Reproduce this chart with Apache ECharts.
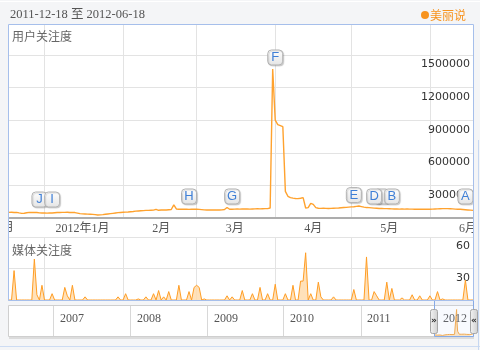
<!DOCTYPE html>
<html><head><meta charset="utf-8">
<script src="https://cdn.jsdelivr.net/npm/echarts@6/dist/echarts.min.js"></script>
<style>html,body{margin:0;padding:0;background:#f4f5f7;}#c{width:480px;height:350px;}</style>
</head><body><div id="c"></div><script>
// ---- data ----
const startDate = [2011, 12, 18];
const userIndex = [
  52000, 53000, 51000, 52000, 47000, 43000, 44000, 48000, 52000, 51000,
  52000, 50000, 47000, 46000, 46000, 45000, 47000, 46000, 48000, 50000,
  51000, 52000, 52000, 53000, 51000, 52000, 50000, 45000, 40000, 38000,
  37000, 36000, 35000, 33000, 31000, 28000, 29000, 31000, 34000, 37000,
  40000, 43000, 46000, 49000, 51000, 53000, 54000, 55000, 58000, 60000,
  63000, 65000, 67000, 68000, 70000, 70000, 71000, 72000, 80000, 71000,
  73000, 75000, 74000, 76000, 78000, 120000, 83000, 81000, 80000, 81000,
  80000, 79000, 80000, 81000, 80000, 79000, 77000, 75000, 74000, 73000,
  74000, 75000, 74000, 73000, 75000, 78000, 97000, 80000, 81000, 82000,
  83000, 82000, 83000, 84000, 83000, 82000, 83000, 84000, 85000, 84000,
  85000, 86000, 86000, 92000, 1370000, 900000, 860000, 850000, 840000, 245000,
  200000, 188000, 183000, 180000, 178000, 182000, 188000, 92000, 96000, 135000,
  125000, 96000, 90000, 89000, 90000, 89000, 88000, 89000, 90000, 91000,
  92000, 94000, 96000, 98000, 100000, 102000, 104000, 107000, 110000, 105000,
  100000, 96000, 95000, 93000, 91000, 90000, 88000, 87000, 86000, 86000,
  85000, 84000, 83000, 83000, 82000, 83000, 82000, 83000, 82000, 82000,
  81000, 82000, 81000, 80000, 81000, 80000, 81000, 82000, 83000, 84000,
  85000, 86000, 86000, 86000, 85000, 84000, 82000, 81000, 80000, 78000,
  76000, 74000, 72000, 70000
];
const mediaIndex = [
  0, 0, 28, 0, 0, 0, 0, 0, 0, 0,
  39, 5, 0, 14, 0, 0, 0, 6, 0, 0,
  0, 0, 12, 4, 0, 14, 0, 0, 0, 0,
  3, 0, 0, 0, 0, 0, 0, 0, 0, 0,
  0, 0, 0, 3, 0, 0, 6, 0, 0, 0,
  0, 1, 0, 0, 3, 0, 0, 6, 0, 9,
  0, 3, 0, 8, 0, 0, 0, 14, 0, 0,
  0, 8, 0, 12, 14, 12, 0, 1, 0, 0,
  0, 0, 0, 0, 0, 0, 4, 0, 3, 0,
  0, 0, 9, 0, 0, 0, 6, 0, 0, 12,
  0, 0, 6, 0, 0, 15, 0, 0, 0, 6,
  0, 0, 14, 0, 0, 18, 18, 45, 0, 6,
  0, 0, 17, 3, 0, 0, 0, 0, 3, 0,
  0, 0, 0, 0, 0, 0, 10, 0, 0, 0,
  0, 41, 0, 0, 8, 4, 0, 0, 0, 17,
  0, 11, 0, 0, 0, 2, 0, 0, 0, 5,
  0, 0, 4, 0, 0, 0, 4, 0, 0, 8,
  0, 1, 0, 0, 0, 0, 0, 0, 0, 0,
  19, 0, 0, 0
];
const markerLetters = ['J', 'I', 'H', 'G', 'F', 'E', 'C', 'D', 'B', 'A'];
const markerDays    = [12, 17, 71, 88, 105, 136, 147, 144, 151, 180];
const markerValues  = [170000, 170000, 198000, 198000, 1477000, 211000, 198000, 198000, 198000, 198000];
const hiddenMarkerLabels = ['C'];
const userAxisMax = 1785000, userAxisStep = 300000;
const mediaAxisMax = 60, mediaAxisStep = 30;
const yearLabels = ['2007', '2008', '2009', '2010', '2011', '2012'];
const titleText = '2011-12-18 至 2012-06-18';
const brandText = '美丽说';
const userTitle = '用户关注度';
const mediaTitle = '媒体关注度';

// ---- build ----
const dates = [];
for (let i = 0; i < userIndex.length; i++) {
  const d = new Date(Date.UTC(startDate[0], startDate[1] - 1, startDate[2] + i));
  dates.push(d.toISOString().slice(0, 10));
}
const dayOf = s => +s.slice(8, 10);
const monthOf = s => +s.slice(5, 7);
const serif = "'Liberation Serif','Noto Sans CJK SC',serif";
const sans = "'DejaVu Sans',sans-serif";
const cjk = "'Noto Sans CJK SC',sans-serif";
const gridColor = '#e3e3e3';
const bg = '#f4f5f7';
const monthStart = (i, v) => dayOf(v) === 1;

const markers = markerLetters.map((l, i) => ({
  name: l, coord: [markerDays[i], markerValues[i]],
  label: { show: hiddenMarkerLabels.indexOf(l) < 0 }
}));

const chart = echarts.init(document.getElementById('c'), null, { renderer: 'canvas' });
const g = [];
g.push({ type: 'rect', z: -10, shape: { x: 8, y: 24, width: 466, height: 277 }, style: { fill: '#fff' } });
g.push({ type: 'line', z: -10, shape: { x1: 0, y1: 1.5, x2: 480, y2: 1.5 }, style: { stroke: '#ffffff', lineWidth: 1 } });
g.push({ type: 'text', x: 10, y: 15, style: { text: titleText, font: '12.5px ' + serif, fill: '#555', verticalAlign: 'middle' } });
g.push({ type: 'circle', shape: { cx: 425, cy: 15, r: 4 }, style: { fill: '#f7931e' } });
g.push({ type: 'text', x: 430, y: 15, style: { text: brandText, font: '12px ' + cjk, fill: '#f7931e', verticalAlign: 'middle' } });
g.push({ type: 'text', x: 12, y: 36, z: 20, style: { text: userTitle, font: '12px ' + cjk, fill: '#666', verticalAlign: 'middle' } });
g.push({ type: 'text', x: 12, y: 250, z: 20, style: { text: mediaTitle, font: '12px ' + cjk, fill: '#666', verticalAlign: 'middle' } });
g.push({ type: 'text', x: 14, y: 228, z: 20, style: { text: '12月', font: '12px ' + serif, fill: '#555', align: 'right', verticalAlign: 'middle' } });
g.push({ type: 'rect', z: 40, shape: { x: 0, y: 218, width: 8, height: 20 }, style: { fill: bg } });
g.push({ type: 'rect', z: 40, shape: { x: 474, y: 24, width: 6, height: 280 }, style: { fill: bg } });
g.push({ type: 'line', z: 41, shape: { x1: 478.5, y1: 140, x2: 478.5, y2: 350 }, style: { stroke: '#c6d7f1', lineWidth: 1 } });
g.push({ type: 'rect', z: 60, shape: { x: 8.5, y: 24.5, width: 465, height: 276 }, style: { fill: null, stroke: '#a6bfeb', lineWidth: 1 } });
g.push({ type: 'rect', z: -10, shape: { x: 8.5, y: 305.5, width: 465, height: 31 }, style: { fill: '#fff', stroke: '#cfcfcf', lineWidth: 1 } });
g.push({ type: 'line', z: -10, shape: { x1: 9, y1: 338, x2: 474, y2: 338 }, style: { stroke: '#dcdcdc', lineWidth: 2 } });
g.push({ type: 'line', z: -10, shape: { x1: 0, y1: 346.5, x2: 480, y2: 346.5 }, style: { stroke: '#cddcf3', lineWidth: 1 } });
[53, 130, 207, 283, 361].forEach(x => g.push({ type: 'line', z: -9, shape: { x1: x + 0.5, y1: 306, x2: x + 0.5, y2: 336 }, style: { stroke: '#d8d8d8', lineWidth: 1 } }));
yearLabels.forEach((t, i) => g.push({ type: 'text', z: 10, x: [60, 137, 214, 290, 367, 443][i], y: 319, style: { text: t, font: '12px ' + serif, fill: '#555', verticalAlign: 'middle' } }));
g.push({ type: 'rect', z: 30, shape: { x: 434.5, y: 300.5, width: 39, height: 36 }, style: { fill: 'rgba(200,215,245,0.12)', stroke: '#86aae6', lineWidth: 1 } });
[[430, '»'], [470, '«']].forEach(([x, t]) => {
  g.push({ type: 'rect', z: 31, shape: { x: x + 0.5, y: 309.5, width: 7, height: 24, r: 2 },
    style: { fill: new echarts.graphic.LinearGradient(0, 0, 1, 0, [{ offset: 0, color: '#f4f4f4' }, { offset: 1, color: '#cfcfcf' }]), stroke: '#a5a5a5', lineWidth: 1 } });
  g.push({ type: 'text', z: 32, x: x + 4, y: 321, style: { text: t, font: 'bold 9px ' + sans, fill: '#333', align: 'center', verticalAlign: 'middle' } });
});

const yLabel = { inside: true, verticalAlign: 'top', padding: [4, 0, 0, 0], margin: 3, color: '#333', fontFamily: sans, fontSize: 11,
  formatter: v => String(v) };

const option = {
  animation: false,
  backgroundColor: bg,
  grid: [
    { left: 9, top: 24, width: 464, height: 194, outerBoundsMode: 'none' },
    { left: 9, top: 237, width: 464, height: 63, outerBoundsMode: 'none' },
    { left: 435, top: 307, width: 38, height: 29, outerBoundsMode: 'none' }
  ],
  xAxis: [
    { gridIndex: 0, type: 'category', data: dates, boundaryGap: false,
      axisLine: { show: true, lineStyle: { color: '#adadad', width: 2 } }, axisTick: { show: false },
      axisLabel: { interval: (i, v) => dayOf(v) === 16, hideOverlap: false,
        formatter: v => monthOf(v) === 1 ? v.slice(0, 4) + '年1月' : monthOf(v) + '月',
        fontFamily: serif, fontSize: 12, color: '#555', margin: 5 },
      splitLine: { show: true, interval: monthStart, lineStyle: { color: gridColor } } },
    { gridIndex: 1, type: 'category', data: dates, boundaryGap: false, position: 'top',
      axisLine: { show: true, lineStyle: { color: '#adadad', width: 1 } }, axisTick: { show: false }, axisLabel: { show: false },
      splitLine: { show: true, interval: monthStart, lineStyle: { color: gridColor } } },
    { gridIndex: 2, type: 'category', data: dates, boundaryGap: false, show: false }
  ],
  yAxis: [
    { gridIndex: 0, type: 'value', position: 'right', min: 0, max: userAxisMax, interval: userAxisStep,
      axisLine: { show: false }, axisTick: { show: false },
      axisLabel: Object.assign({}, yLabel, { showMinLabel: false, showMaxLabel: false }),
      splitLine: { show: true, lineStyle: { color: gridColor } } },
    { gridIndex: 1, type: 'value', position: 'right', min: 0, max: mediaAxisMax, interval: mediaAxisStep,
      axisLine: { show: false }, axisTick: { show: false },
      axisLabel: Object.assign({}, yLabel, { showMinLabel: false, showMaxLabel: true }),
      splitLine: { show: true, lineStyle: { color: gridColor } } },
    { gridIndex: 2, type: 'value', min: 0, show: false }
  ],
  series: [
    { type: 'line', xAxisIndex: 0, yAxisIndex: 0, data: userIndex, symbol: 'none', z: 3,
      lineStyle: { color: '#ffa22e', width: 1.4 },
      markPoint: {
        symbol: 'roundRect', symbolSize: [15, 15], data: markers, animation: false,
        itemStyle: { color: new echarts.graphic.LinearGradient(0, 0, 0, 1, [{ offset: 0, color: '#ffffff' }, { offset: 1, color: '#e4e4e4' }]),
          borderColor: '#b3b3b3', borderWidth: 1, shadowColor: 'rgba(0,0,0,0.15)', shadowBlur: 1, shadowOffsetX: 1, shadowOffsetY: 1 },
        label: { show: true, formatter: p => p.name, color: '#3f7fd6', fontSize: 13, fontFamily: "'Liberation Sans',Arial,sans-serif" }
      } },
    { type: 'line', xAxisIndex: 1, yAxisIndex: 1, data: mediaIndex, symbol: 'none', z: 3,
      lineStyle: { color: '#ff9d24', width: 1 }, areaStyle: { color: '#ffdcae', opacity: 0.85 } },
    { type: 'line', xAxisIndex: 2, yAxisIndex: 2, data: userIndex, symbol: 'none', z: 3,
      lineStyle: { color: '#f6a53e', width: 1 }, areaStyle: { color: '#fcd9a6' } }
  ],
  graphic: { elements: g }
};
chart.setOption(option);
</script></body></html>
